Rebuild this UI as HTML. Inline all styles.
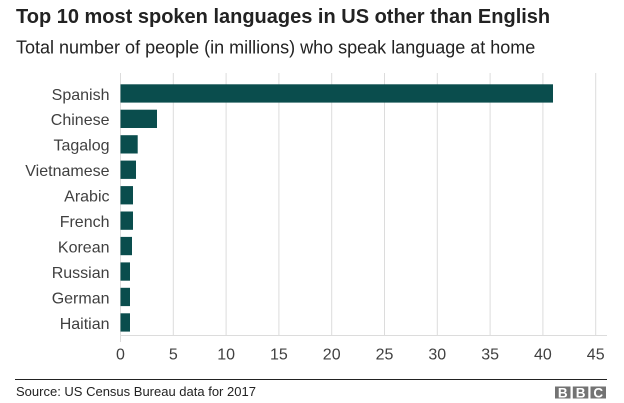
<!DOCTYPE html>
<html>
<head>
<meta charset="utf-8">
<style>
  html, body { margin:0; padding:0; background:#fff; }
  body { width:624px; height:403px; overflow:hidden; }
  svg { display:block; }
  text { font-family: "Liberation Sans", Arial, sans-serif; }
</style>
</head>
<body>
<svg width="624" height="403" viewBox="0 0 624 403" xmlns="http://www.w3.org/2000/svg">
  <rect width="624" height="403" fill="#fff"/>
  <!-- Title -->
  <text x="16" y="23" font-size="20" font-weight="bold" fill="#222">Top 10 most spoken languages in US other than English</text>
  <text x="16" y="53.5" font-size="18" fill="#222">Total number of people (in millions) who speak language at home</text>

  <!-- Gridlines -->
  <g stroke="#dcdcdc" stroke-width="1">
    <line x1="120.5" y1="73" x2="120.5" y2="342"/>
    <line x1="173.3" y1="73" x2="173.3" y2="335"/>
    <line x1="226.1" y1="73" x2="226.1" y2="335"/>
    <line x1="278.9" y1="73" x2="278.9" y2="335"/>
    <line x1="331.7" y1="73" x2="331.7" y2="335"/>
    <line x1="384.5" y1="73" x2="384.5" y2="335"/>
    <line x1="437.3" y1="73" x2="437.3" y2="335"/>
    <line x1="490.1" y1="73" x2="490.1" y2="335"/>
    <line x1="542.9" y1="73" x2="542.9" y2="335"/>
    <line x1="595.7" y1="73" x2="595.7" y2="335"/>
    <line x1="120" y1="335.5" x2="607" y2="335.5"/>
  </g>

  <!-- Bars -->
  <g fill="#0a4d4d">
    <rect x="120.5" y="84.3" width="432.5" height="18.3"/>
    <rect x="120.5" y="109.7" width="36.5" height="18.3"/>
    <rect x="120.5" y="135.2" width="17.2" height="18.3"/>
    <rect x="120.5" y="160.6" width="15.5" height="18.3"/>
    <rect x="120.5" y="186.1" width="12.5" height="18.3"/>
    <rect x="120.5" y="211.5" width="12.5" height="18.3"/>
    <rect x="120.5" y="236.9" width="11.5" height="18.3"/>
    <rect x="120.5" y="262.4" width="9.5" height="18.3"/>
    <rect x="120.5" y="287.8" width="9.5" height="18.3"/>
    <rect x="120.5" y="313.3" width="9.5" height="18.3"/>
  </g>

  <!-- Category labels -->
  <g font-size="16" fill="#404040" text-anchor="end">
    <text x="109.5" y="99.8">Spanish</text>
    <text x="109.5" y="125.2">Chinese</text>
    <text x="109.5" y="150.7">Tagalog</text>
    <text x="109.5" y="176.1">Vietnamese</text>
    <text x="109.5" y="201.6">Arabic</text>
    <text x="109.5" y="227">French</text>
    <text x="109.5" y="252.4">Korean</text>
    <text x="109.5" y="277.9">Russian</text>
    <text x="109.5" y="303.3">German</text>
    <text x="109.5" y="328.8">Haitian</text>
  </g>

  <!-- Tick labels -->
  <g font-size="16" fill="#404040" text-anchor="middle">
    <text x="120.5" y="359.5">0</text>
    <text x="173.3" y="359.5">5</text>
    <text x="226.1" y="359.5">10</text>
    <text x="278.9" y="359.5">15</text>
    <text x="331.7" y="359.5">20</text>
    <text x="384.5" y="359.5">25</text>
    <text x="437.3" y="359.5">30</text>
    <text x="490.1" y="359.5">35</text>
    <text x="542.9" y="359.5">40</text>
    <text x="595.7" y="359.5">45</text>
  </g>

  <!-- Footer -->
  <line x1="15" y1="379.5" x2="607" y2="379.5" stroke="#222" stroke-width="1"/>
  <text x="16" y="396" font-size="13" fill="#222">Source: US Census Bureau data for 2017</text>

  <!-- BBC logo -->
  <g>
    <rect x="555" y="386.5" width="15.5" height="12" fill="#737373"/>
    <rect x="572.8" y="386.5" width="15.5" height="12" fill="#737373"/>
    <rect x="590.5" y="386.5" width="15.5" height="12" fill="#737373"/>
    <g font-size="13.5" font-weight="bold" fill="#fff" text-anchor="middle">
      <text x="562.8" y="397.5">B</text>
      <text x="580.6" y="397.5">B</text>
      <text x="598.3" y="397.5">C</text>
    </g>
  </g>
</svg>
</body>
</html>
